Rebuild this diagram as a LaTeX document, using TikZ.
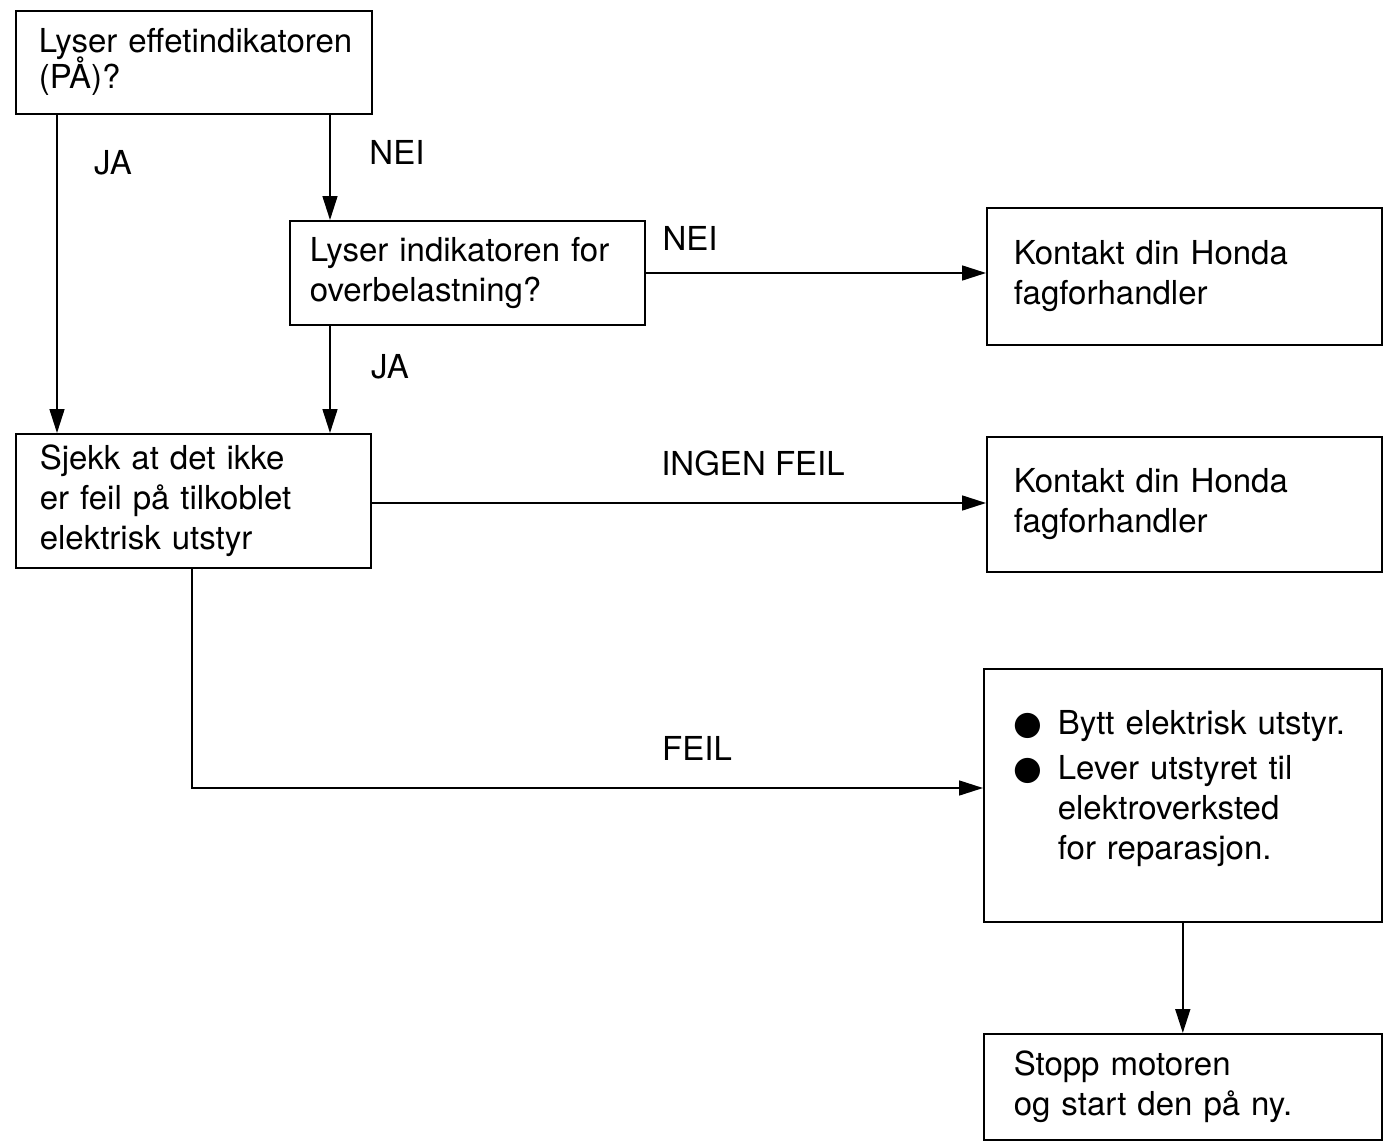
\documentclass[tikz,border=0pt]{standalone}
\usepackage{fontspec}
\setmainfont{TeX Gyre Heros}
\newfontfamily\dejavu{DejaVu Sans}
\usetikzlibrary{arrows.meta}
\newcommand{\nohyph}{\hyphenpenalty=10000 \exhyphenpenalty=10000 \relax}
\tikzset{
  box/.style={draw, line width=1.6pt, anchor=north west, align=left, inner ysep=0pt,
    font=\fontsize{33}{40}\selectfont, execute at begin node=\nohyph},
  lbl/.style={font=\fontsize{33}{40}\selectfont, inner sep=0pt, anchor=center},
  arr/.style={line width=1.6pt, -{Triangle[length=24pt,width=15pt]}},
}
\newcommand{\bul}{\makebox[44pt][l]{\dejavu ●}}
\begin{document}
\begin{tikzpicture}[x=1pt,y=-1pt]
\useasboundingbox (0,0) rectangle (1390,1148);
\node[box, minimum width=356pt, minimum height=103pt, inner xsep=23pt, text width=310pt] (b1) at (15,10) {\mbox{Lyser effetindikatoren}\\[-4pt]{(PÅ)?}};
\node[box, minimum width=355pt, minimum height=104pt, inner xsep=20pt, text width=315pt] (b2) at (289,220) {Lyser indikatoren for\\overbelastning?};
\node[box, minimum width=395pt, minimum height=137pt, inner xsep=27pt, text width=341pt] (b3) at (986,207) {Kontakt din Honda\\fagforhandler};
\node[box, minimum width=355pt, minimum height=134pt, inner xsep=24pt, text width=307pt] (b4) at (15,433) {Sjekk at det ikke\\er feil på tilkoblet\\elektrisk utstyr};
\node[box, minimum width=395pt, minimum height=135pt, inner xsep=27pt, text width=341pt] (b5) at (986,436) {Kontakt din Honda\\fagforhandler};
\node[box, minimum width=398pt, minimum height=253pt, inner xsep=30pt, text width=338pt] (b6) at (983,668) {\mbox{\bul Bytt elektrisk utstyr.}\\[5pt]\mbox{\bul Lever utstyret til}\\\hspace*{44pt}elektroverksted\\\hspace*{44pt}for reparasjon.\\[-20pt]\mbox{}};
\node[box, minimum width=398pt, minimum height=106pt, inner xsep=30pt, text width=338pt] (b7) at (983,1033) {Stopp motoren\\og start den på ny.};

\coordinate (cA) at (57,0);
\coordinate (cB) at (330,0);
\coordinate (cC) at (0,273);
\coordinate (cD) at (0,503);
\coordinate (cE) at (192,0);
\coordinate (cF) at (0,788);

\draw[arr] (b1.south -| cA) -- (b4.north -| cA);
\draw[arr] (b1.south -| cB) -- (b2.north -| cB);
\draw[arr] (b2.east |- cC) -- (b3.west |- cC);
\draw[arr] (b2.south -| cB) -- (b4.north -| cB);
\draw[arr] (b4.east |- cD) -- (b5.west |- cD);
\draw[arr] (b4.south -| cE) |- (b6.west |- cF);
\draw[arr] (b6.south) -- (b7.north);

\node[lbl] (l1) at (113,163) {JA};
\node[lbl] (l2) at (397,152) {NEI};
\node[lbl] (l3) at (690,238) {NEI};
\node[lbl] (l4) at (390,367) {JA};
\node[lbl] (l5) at (753,463) {INGEN FEIL};
\node[lbl] (l6) at (697,748) {FEIL};
\end{tikzpicture}
\end{document}
